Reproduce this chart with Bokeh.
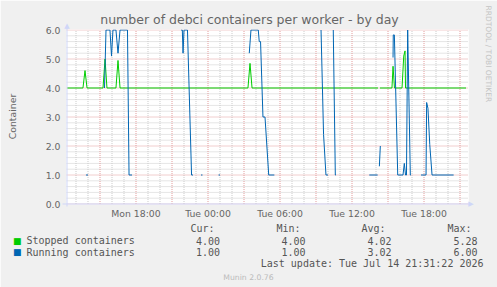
import math
from bokeh.plotting import figure
from bokeh.models import FixedTicker, Range1d, ColumnDataSource
from bokeh.core.properties import value
from bokeh.embed import file_html
from bokeh.resources import INLINE

NaN = float("nan")

# x values: hours since Mon 00:00
stopped_hours = [12.25, 13.58, 13.75, 13.92, 15.25, 15.42, 15.58, 16.33, 16.5, 16.67,
                 27.33, 27.5, 27.67, 38.17, 38.25, 38.33, 39.33, 39.42, 39.54,
                 40.17, 40.31, 40.42, 40.46, 45.5]
stopped_vals = [4.0, 4.0, 4.6, 4.0, 4.0, 5.0, 4.0, 4.0, 4.95, 4.0,
                4.0, 4.85, 4.0, 4.0, NaN, 4.0, 4.0, 4.75, 4.0,
                4.0, 5.1, 5.28, 4.0, 4.0]

running_hours = [13.83, 14.0, 14.1,
                 15.375, 15.5, 15.83, 15.96, 16.08, 16.33, 16.5, 16.67, 17.29, 17.42, 17.67, 17.8,
                 21.75, 21.86, 21.92, 22.0, 22.29, 22.63, 22.75, 22.85,
                 23.42, 23.54, 23.6,
                 24.88, 25.0, 25.1,
                 27.44, 27.58, 28.19, 28.27, 28.38, 28.58, 28.75, 29.06, 29.53, 29.6,
                 33.42, 33.63, 33.83, 34.0, 34.1,
                 34.44, 34.61, 34.67, 34.75,
                 37.44, 38.14, 38.2, 38.28, 38.36, 38.45,
                 39.42, 39.44, 39.53, 39.81, 40.25, 40.36, 40.46, 40.54, 40.64, 40.86, 40.92, 41.0,
                 41.75, 42.17, 42.22, 42.33, 42.48, 42.67, 44.47]
running_vals = [1.0, 1.0, NaN,
                4.0, 6.0, 6.0, 5.1, 6.0, 6.0, 5.2, 6.0, 6.0, 1.0, 1.0, NaN,
                6.0, 6.0, 5.2, 6.0, 6.0, 1.0, 1.0, NaN,
                1.0, 1.0, NaN,
                1.0, 1.0, NaN,
                5.2, 6.0, 6.0, 5.6, 5.6, 3.0, 3.0, 1.0, 1.0, NaN,
                6.0, 2.4, 1.0, 1.0, NaN,
                6.0, 1.0, 1.0, NaN,
                1.0, 1.0, NaN, 1.3, 2.0, NaN,
                5.05, 5.83, 5.83, 1.0, 1.0, 1.4, 1.0, 1.0, 6.0, 1.0, 1.0, NaN,
                1.0, 1.0, 3.5, 3.3, 2.05, 1.0, 1.0]

tick_hours = [18, 24, 30, 36, 42]
tick_labels = ["Mon 18:00", "Tue 00:00", "Tue 06:00", "Tue 12:00", "Tue 18:00"]
y_ticks = [0, 1, 2, 3, 4, 5, 6]
y_labels = ["0.0", "1.0", "2.0", "3.0", "4.0", "5.0", "6.0"]

series_names = ["Stopped containers", "Running containers"]
series_colors = ["#00CC00", "#0066B3"]
stat_headers = ["Cur:", "Min:", "Avg:", "Max:"]
cur_vals = ["4.00", "1.00"]
min_vals = ["4.00", "1.00"]
avg_vals = ["4.02", "3.02"]
max_vals = ["5.28", "6.00"]

title_text = "number of debci containers per worker - by day"
y_title = "Container"
last_update = "Last update: Tue Jul 14 21:31:22 2026"
version_text = "Munin 2.0.76"
side_text = "RRDTOOL / TOBI OETIKER"

W, H = 497, 287
FL, FR, FT, FB = 66, 468, 29, 204
PX_H = 12.0   # pixels per hour
PX_V = 29.0   # pixels per unit


def hx(X):  # canvas x pixel -> hours
    return 18 + (X - 135.5) / PX_H


def vy(Y):  # canvas y pixel -> value
    return (203.5 - Y) / PX_V


p = figure(width=W, height=H, output_backend="svg", toolbar_location=None,
           x_range=Range1d(hx(FL), hx(FR)), y_range=Range1d(vy(FB), vy(FT)),
           min_border_left=FL, min_border_right=W - FR, min_border_top=FT, min_border_bottom=H - FB,
           background_fill_color="white", border_fill_color="#F0F0F0", outline_line_color=None)

p.xgrid.visible = False
p.ygrid.visible = False

p.xaxis.ticker = FixedTicker(ticks=tick_hours)
p.xaxis.major_label_overrides = {h: l for h, l in zip(tick_hours, tick_labels)}
p.yaxis.ticker = FixedTicker(ticks=y_ticks)
p.yaxis.major_label_overrides = {t: l for t, l in zip(y_ticks, y_labels)}
for ax in (p.xaxis[0], p.yaxis[0]):
    ax.axis_line_color = None
    ax.major_tick_line_color = None
    ax.minor_tick_line_color = None
    ax.major_tick_out = 0
    ax.major_tick_in = 0
    ax.minor_tick_out = 0
    ax.minor_tick_in = 0
    ax.major_label_text_font = "DejaVu Sans"
    ax.major_label_text_font_size = "9.3px"
    ax.major_label_text_color = "#666666"
p.yaxis.major_label_standoff = 6
p.xaxis.major_label_standoff = 3

# dotted grid (pixel-aligned), minor first then major
MAJ = "#E39C9C"
MIN = "#CBCBCB"
y_minor = [i / 5 for i in range(31) if i % 5 != 0]
x_major = [h for h in range(13, 46) if h % 3 == 0]
x_minor = [h for h in range(13, 46) if h % 3 != 0]
xl, xr = hx(FL), hx(FR)
y_lo, y_hi = 0, 6
p.segment(x0=[xl] * len(y_minor), x1=[xr] * len(y_minor), y0=y_minor, y1=y_minor,
          line_color=MIN, line_dash="1 1", line_width=1, level="underlay")
p.segment(x0=x_minor, x1=x_minor, y0=[y_lo] * len(x_minor), y1=[y_hi] * len(x_minor),
          line_color=MIN, line_dash="1 1", line_width=1, level="underlay")
p.segment(x0=[xl] * len(y_ticks), x1=[xr] * len(y_ticks), y0=y_ticks, y1=y_ticks,
          line_color=MAJ, line_dash="1 1", line_width=1, level="underlay")
p.segment(x0=x_major, x1=x_major, y0=[y_lo] * len(x_major), y1=[y_hi] * len(x_major),
          line_color=MAJ, line_dash="1 1", line_width=1, level="underlay")

p.line(stopped_hours, stopped_vals, line_color=series_colors[0], line_width=1)
p.line(running_hours, running_vals, line_color=series_colors[1], line_width=1)

# Munin-style axis lines with arrow heads
AX = "#CFD6F8"
p.segment(x0=[hx(66.5), hx(62)], y0=[vy(206), vy(203.5)],
          x1=[hx(66.5), hx(470)], y1=[vy(25), vy(203.5)],
          line_color=AX, line_width=1, level="overlay")


def lab(text, X, Y, size, font="DejaVu Sans", color="#666666", align="left", angle=0.0):
    src = ColumnDataSource(dict(x=[hx(X)], y=[vy(Y)], t=[text]))
    p.text(x="x", y="y", text="t", source=src, text_font=value(font),
           text_font_size=value(size), text_color=color, text_align=align,
           text_baseline="middle", angle=angle, level="overlay")


lab("\u25B2", 66.5, 25, "7px", color=AX, align="center")
lab("\u25B6", 470.5, 203.5, "7px", color=AX, align="center")

MONO = "DejaVu Sans Mono"
LC = "#555555"
lab(title_text, 249, 19, "12.5px", align="center")
lab(y_title, 12, 116, "9.3px", align="center", angle=math.pi / 2)
lab(side_text, 488, 5, "7.5px", color="#C4C4C4", angle=-math.pi / 2)

for name, X in zip(stat_headers, [190, 276, 361, 447]):
    lab(name, X, 228, "10px", font=MONO, color=LC)
rows_y = [240, 251.7]
for i in range(2):
    Y = rows_y[i]
    lab("\u25A0", 16.8, Y, "9px", color=series_colors[i], align="center")
    lab(series_names[i], 26, Y, "10px", font=MONO, color=LC)
    for vals, X in zip([cur_vals, min_vals, avg_vals, max_vals], [219.5, 305, 391, 477]):
        lab(vals[i], X, Y, "10px", font=MONO, color=LC, align="right")
lab(last_update, 483, 263, "10px", font=MONO, color=LC, align="right")
lab(version_text, 248, 276.5, "7.7px", color="#BBBBBB", align="center")

open("out.html", "w").write(file_html(p, INLINE))
